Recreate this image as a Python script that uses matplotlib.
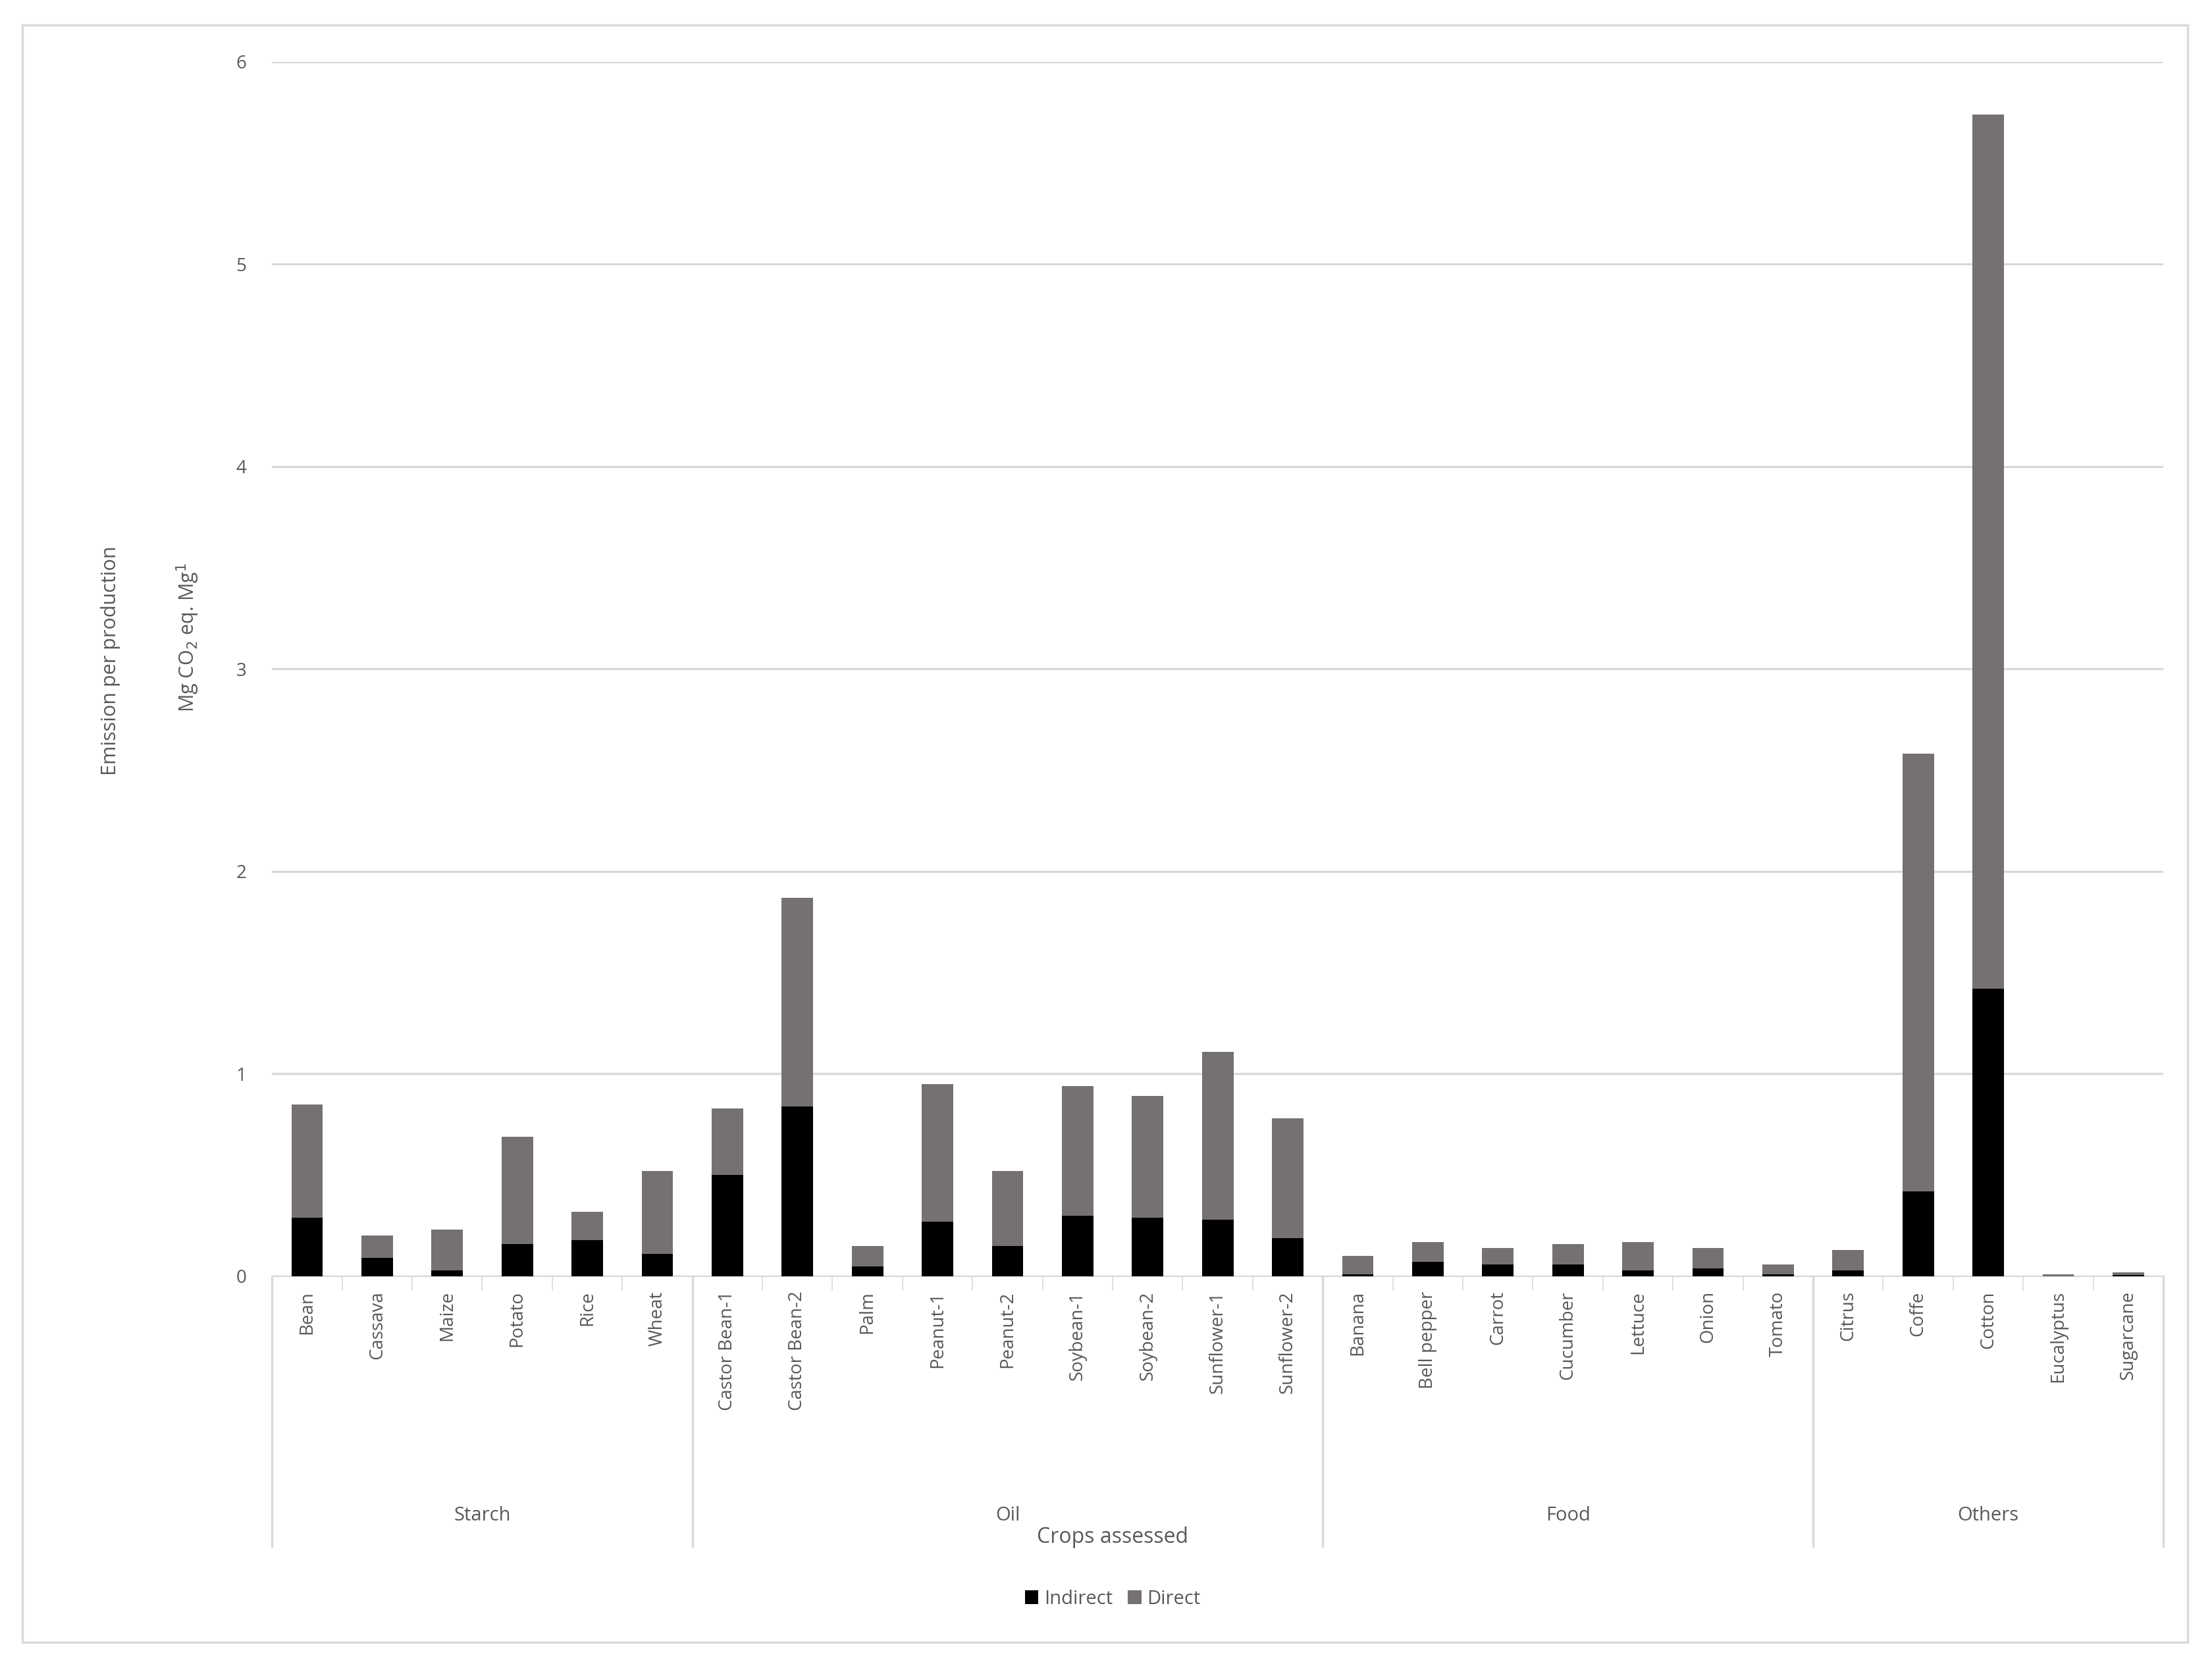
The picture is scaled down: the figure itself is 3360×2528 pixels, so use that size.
import matplotlib.pyplot as plt
import matplotlib.transforms as mtransforms

plt.rcParams['font.family'] = ['Open Sans', 'DejaVu Sans']

crops = ['Bean', 'Cassava', 'Maize', 'Potato', 'Rice', 'Wheat',
         'Castor Bean-1', 'Castor Bean-2', 'Palm', 'Peanut-1', 'Peanut-2',
         'Soybean-1', 'Soybean-2', 'Sunflower-1', 'Sunflower-2',
         'Banana', 'Bell pepper', 'Carrot', 'Cucumber', 'Lettuce', 'Onion', 'Tomato',
         'Citrus', 'Coffe', 'Cotton', 'Eucalyptus', 'Sugarcane']
total = [0.85, 0.20, 0.23, 0.69, 0.32, 0.52,
         0.83, 1.87, 0.15, 0.95, 0.52, 0.94, 0.89, 1.11, 0.78,
         0.10, 0.17, 0.14, 0.16, 0.17, 0.14, 0.06,
         0.13, 2.58, 5.74, 0.01, 0.02]
indirect = [0.29, 0.09, 0.03, 0.16, 0.18, 0.11,
            0.50, 0.84, 0.05, 0.27, 0.15, 0.30, 0.29, 0.28, 0.19,
            0.01, 0.07, 0.06, 0.06, 0.03, 0.04, 0.01,
            0.03, 0.42, 1.42, 0.0, 0.005]
direct = [t - i for t, i in zip(total, indirect)]
groups = ['Starch', 'Oil', 'Food', 'Others']
group_sizes = [6, 9, 7, 5]

gray = '#595959'
fig = plt.figure(figsize=(16.8, 12.64), dpi=200)
ax = fig.add_axes([0.123, 0.233, 0.855, 0.73])
x = list(range(len(crops)))
ax.bar(x, indirect, width=0.45, color='black', label='Indirect', zorder=3)
ax.bar(x, direct, width=0.45, bottom=indirect, color='#767171', label='Direct', zorder=3)

ax.set_xlim(-0.5, len(crops) - 0.5)
ax.set_ylim(0, 6)
ax.set_yticks(range(7))
ax.yaxis.grid(True, color='#d9d9d9', linewidth=1.2, zorder=0)
for s in ['top', 'right', 'left']:
    ax.spines[s].set_visible(False)
ax.spines['bottom'].set_color('#d9d9d9')
ax.tick_params(axis='y', length=0, labelsize=10, labelcolor=gray, pad=14)
ax.set_xticks(x)
ax.set_xticklabels(crops, rotation=90, fontsize=10, color=gray)
ax.tick_params(axis='x', length=0, pad=8)
ax.set_xticks([i - 0.5 for i in range(len(crops) + 1)], minor=True)
ax.tick_params(axis='x', which='minor', length=8, color='#d9d9d9')

trans = mtransforms.blended_transform_factory(ax.transData, ax.transAxes)
bounds = [-0.5]
for n in group_sizes:
    bounds.append(bounds[-1] + n)
for b in bounds:
    ax.plot([b, b], [0, -0.222], color='#d9d9d9', lw=1.2, transform=trans, clip_on=False)
for g, a, b in zip(groups, bounds[:-1], bounds[1:]):
    ax.text((a + b) / 2, -0.205, g, transform=trans, ha='center', va='bottom', fontsize=10.5, color=gray)

fig.text(0.503, 0.076, 'Crops assessed', ha='center', va='center', fontsize=11.5, color=gray)
fig.text(0.05, 0.603, 'Emission per production', rotation=90, ha='center', va='center', fontsize=11, color=gray)
fig.text(0.085, 0.617, 'Mg CO$_2$ eq. Mg$^{1}$', rotation=90, ha='center', va='center', fontsize=11, color=gray)

fig.legend(loc='center', bbox_to_anchor=(0.503, 0.039), ncol=2, frameon=False, fontsize=10.5,
           handlelength=0.7, handleheight=0.7, handletextpad=0.3, columnspacing=0.8, labelcolor=gray)

fig.patches.append(plt.Rectangle((0.01, 0.013), 0.979, 0.972, transform=fig.transFigure,
                                 fill=False, edgecolor='#d9d9d9', lw=1.2))
fig.savefig('out.png', dpi=200)
